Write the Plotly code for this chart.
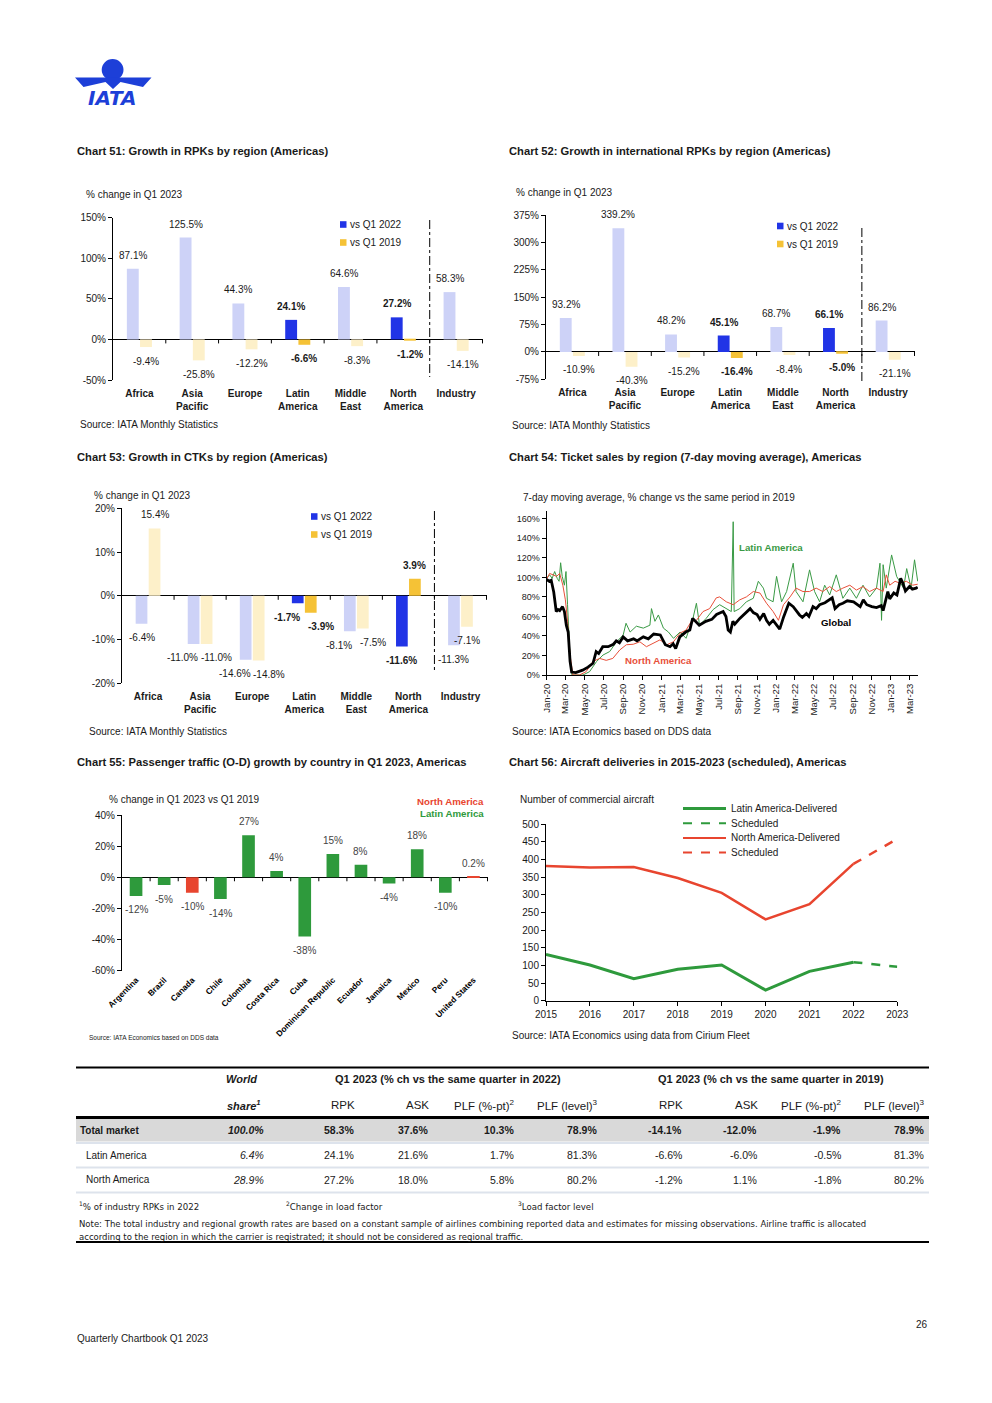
import plotly.graph_objects as go

W, H = 992, 1403
OFF = 8  # the page body adds an 8px margin around the figure
FONT = "Liberation Sans"
WIDE = "DejaVu Sans"
TXT = "#1a1a1a"
LIGHT_BLUE = "#cdd2f7"
STRONG_BLUE = "#2134e6"
LIGHT_YELLOW = "#fdf0c9"
STRONG_YELLOW = "#f5c236"
GREEN = "#2e9a3c"
RED = "#e8452f"
LINE_GREEN = "#3a9a45"
LINE_RED = "#e8503a"
IATA_BLUE = "#1d3fd8"

# ---------------- data ----------------
regions = ["Africa", "Asia Pacific", "Europe", "Latin America", "Middle East", "North America", "Industry"]
region_labels = ["Africa", "Asia<br>Pacific", "Europe", "Latin<br>America", "Middle<br>East", "North<br>America", "Industry"]
highlight_regions = ["Latin America", "North America"]

rpk_vs_q1_2022 = [87.1, 125.5, 44.3, 24.1, 64.6, 27.2, 58.3]
rpk_vs_q1_2019 = [-9.4, -25.8, -12.2, -6.6, -8.3, -1.2, -14.1]
intl_rpk_vs_q1_2022 = [93.2, 339.2, 48.2, 45.1, 68.7, 66.1, 86.2]
intl_rpk_vs_q1_2019 = [-10.9, -40.3, -15.2, -16.4, -8.4, -5.0, -21.1]
ctk_vs_q1_2022 = [-6.4, -11.0, -14.6, -1.7, -8.1, -11.6, -11.3]
ctk_vs_q1_2019 = [15.4, -11.0, -14.8, -3.9, -7.5, 3.9, -7.1]

countries = ["Argentina", "Brazil", "Canada", "Chile", "Colombia", "Costa Rica", "Cuba",
             "Dominican Republic", "Ecuador", "Jamaica", "Mexico", "Peru", "United States"]
country_region = ["Latin America", "Latin America", "North America", "Latin America", "Latin America",
                  "Latin America", "Latin America", "Latin America", "Latin America", "Latin America",
                  "Latin America", "Latin America", "North America"]
od_growth_vs_2019 = [-12, -5, -10, -14, 27, 4, -38, 15, 8, -4, 18, -10, 0.2]

years = [2015, 2016, 2017, 2018, 2019, 2020, 2021, 2022]
latam_delivered = [131, 101, 62, 89, 101, 30, 83, 109]
namer_delivered = [381, 377, 378, 347, 305, 230, 273, 387]
sched_years = [2022, 2023]
latam_scheduled = [109, 96]
namer_scheduled = [387, 458]

# Chart 54: ticket sales, 7-day moving average, % of 2019 level
global_sales = [
    ("2020-01-01", 98), ("2020-01-10", 96), ("2020-01-16", 97), ("2020-01-24", 85), ("2020-02-01", 65),
    ("2020-02-07", 67), ("2020-02-12", 66), ("2020-02-21", 70), ("2020-02-27", 65), ("2020-03-04", 51),
    ("2020-03-10", 44), ("2020-03-16", 14), ("2020-03-21", 3), ("2020-04-03", 2.4), ("2020-04-25", 5),
    ("2020-05-12", 8), ("2020-05-28", 12), ("2020-06-07", 24), ("2020-06-15", 22), ("2020-06-28", 29),
    ("2020-07-15", 29), ("2020-08-01", 31.5), ("2020-08-10", 35), ("2020-08-20", 33), ("2020-09-01", 39),
    ("2020-09-15", 35), ("2020-10-04", 37), ("2020-10-15", 35), ("2020-11-04", 39), ("2020-11-20", 37),
    ("2020-12-07", 42), ("2020-12-28", 41), ("2021-01-13", 31), ("2021-01-28", 29), ("2021-02-07", 32),
    ("2021-02-15", 27), ("2021-02-28", 39), ("2021-03-19", 44), ("2021-04-01", 46), ("2021-04-10", 58),
    ("2021-05-01", 51), ("2021-05-22", 55), ("2021-06-10", 57), ("2021-06-25", 62), ("2021-07-16", 65),
    ("2021-07-25", 60), ("2021-08-01", 46), ("2021-08-08", 44), ("2021-08-16", 55), ("2021-08-22", 52),
    ("2021-09-07", 58), ("2021-09-25", 63), ("2021-10-10", 68), ("2021-10-20", 64), ("2021-11-01", 62),
    ("2021-11-10", 57), ("2021-11-22", 63), ("2021-12-01", 56), ("2021-12-10", 52), ("2021-12-22", 56),
    ("2022-01-07", 50), ("2022-01-12", 47), ("2022-01-25", 60), ("2022-02-10", 73.5), ("2022-02-24", 70),
    ("2022-03-05", 66), ("2022-03-16", 61.5), ("2022-03-25", 59), ("2022-04-07", 63), ("2022-04-15", 60),
    ("2022-04-28", 70), ("2022-05-08", 68), ("2022-05-19", 72), ("2022-06-05", 74), ("2022-06-19", 77),
    ("2022-06-28", 79), ("2022-07-07", 68), ("2022-07-20", 72), ("2022-08-01", 73.5), ("2022-08-15", 76),
    ("2022-09-04", 75), ("2022-09-15", 72), ("2022-09-25", 70), ("2022-10-05", 77), ("2022-10-16", 72),
    ("2022-11-01", 70), ("2022-11-16", 69), ("2022-12-01", 71), ("2022-12-07", 66), ("2022-12-14", 75),
    ("2022-12-22", 85.5), ("2022-12-28", 78), ("2023-01-10", 84), ("2023-01-20", 82), ("2023-02-01", 99),
    ("2023-02-08", 94), ("2023-02-16", 86), ("2023-03-01", 90.6), ("2023-03-10", 88), ("2023-03-22", 89),
    ("2023-03-27", 90),
]
namer_sales = [
    ("2020-01-01", 98), ("2020-01-11", 104), ("2020-01-22", 102.6), ("2020-02-02", 101), ("2020-02-12", 104),
    ("2020-02-22", 92), ("2020-03-01", 77), ("2020-03-08", 55), ("2020-03-16", 20.5), ("2020-03-25", 0),
    ("2020-04-15", 0), ("2020-05-06", 3.4), ("2020-05-27", 13.7), ("2020-06-18", 17), ("2020-07-09", 15),
    ("2020-07-30", 17), ("2020-08-21", 25.6), ("2020-09-11", 31), ("2020-10-03", 31.5), ("2020-10-24", 34),
    ("2020-11-14", 29), ("2020-12-05", 32.5), ("2020-12-27", 36), ("2021-01-18", 31), ("2021-02-08", 34),
    ("2021-03-01", 43), ("2021-03-20", 46), ("2021-04-06", 55), ("2021-04-22", 56), ("2021-05-13", 65),
    ("2021-06-03", 68), ("2021-06-24", 79), ("2021-07-05", 80), ("2021-07-26", 75), ("2021-08-17", 72),
    ("2021-09-07", 77), ("2021-09-28", 80), ("2021-10-20", 85.5), ("2021-11-10", 84), ("2021-12-01", 73.5),
    ("2021-12-22", 65), ("2022-01-08", 56), ("2022-01-24", 72), ("2022-02-14", 80), ("2022-03-05", 89),
    ("2022-03-27", 85.5), ("2022-04-17", 85.5), ("2022-05-08", 89), ("2022-05-29", 85.5), ("2022-06-20", 90.6),
    ("2022-07-11", 85.5), ("2022-08-01", 89), ("2022-08-23", 92), ("2022-09-13", 87), ("2022-10-04", 90.6),
    ("2022-10-25", 85.5), ("2022-11-16", 89), ("2022-12-07", 85.5), ("2022-12-17", 102.6), ("2022-12-28", 92),
    ("2023-01-14", 96), ("2023-01-30", 94), ("2023-02-19", 96), ("2023-03-11", 92), ("2023-03-27", 93),
]
latam_sales = [
    ("2020-01-01", 99), ("2020-01-11", 102.6), ("2020-01-19", 99), ("2020-01-27", 106), ("2020-02-04", 99),
    ("2020-02-10", 96), ("2020-02-15", 115), ("2020-02-20", 101), ("2020-02-27", 92), ("2020-03-03", 106),
    ("2020-03-08", 72), ("2020-03-16", 17), ("2020-03-22", 0), ("2020-04-26", 0), ("2020-05-17", 3.4),
    ("2020-06-08", 13.7), ("2020-06-29", 20.5), ("2020-07-20", 24), ("2020-08-11", 34), ("2020-09-01", 41),
    ("2020-09-10", 53), ("2020-09-23", 44), ("2020-10-13", 50), ("2020-11-04", 48), ("2020-11-25", 51),
    ("2020-11-30", 68), ("2020-12-11", 55), ("2020-12-22", 61.5), ("2021-01-07", 48), ("2021-01-23", 44),
    ("2021-02-08", 37.6), ("2021-03-01", 44), ("2021-03-20", 37.6), ("2021-04-11", 58), ("2021-04-22", 73.5),
    ("2021-05-02", 51), ("2021-05-23", 58), ("2021-06-14", 67), ("2021-07-05", 72), ("2021-07-26", 68),
    ("2021-08-11", 65), ("2021-08-17", 157), ("2021-08-20", 65), ("2021-09-07", 68), ("2021-09-28", 75),
    ("2021-10-20", 78.6), ("2021-11-05", 96), ("2021-11-21", 89), ("2021-12-01", 78.6), ("2021-12-22", 75),
    ("2022-01-02", 101), ("2022-01-18", 75), ("2022-02-03", 85.5), ("2022-02-24", 114.5), ("2022-03-05", 85.5),
    ("2022-03-27", 75), ("2022-04-17", 107.7), ("2022-05-03", 85.5), ("2022-05-19", 75), ("2022-06-04", 92),
    ("2022-06-20", 82), ("2022-07-11", 102.6), ("2022-08-01", 78.6), ("2022-08-23", 89), ("2022-09-13", 78.6),
    ("2022-10-04", 92), ("2022-10-25", 80), ("2022-11-16", 89), ("2022-11-27", 114.5), ("2022-12-02", 56),
    ("2022-12-07", 113), ("2022-12-17", 89), ("2023-01-03", 123), ("2023-01-19", 101), ("2023-02-10", 89),
    ("2023-02-20", 109), ("2023-03-06", 89), ("2023-03-17", 118), ("2023-03-27", 96),
]

# Table
table_rows = ["Total market", "Latin America", "North America"]
world_share = ["100.0%", "6.4%", "28.9%"]
rpk_2022 = ["58.3%", "24.1%", "27.2%"]
ask_2022 = ["37.6%", "21.6%", "18.0%"]
plf_pt_2022 = ["10.3%", "1.7%", "5.8%"]
plf_lvl_2022 = ["78.9%", "81.3%", "80.2%"]
rpk_2019 = ["-14.1%", "-6.6%", "-1.2%"]
ask_2019 = ["-12.0%", "-6.0%", "1.1%"]
plf_pt_2019 = ["-1.9%", "-0.5%", "-1.8%"]
plf_lvl_2019 = ["78.9%", "81.3%", "80.2%"]

BARGAP = 0.5
BARGROUPGAP = 0.1


# ---------------- helpers (page pixel -> paper coordinates) ----------------
def px(x):
    return (x - OFF) / W


def py(y):
    return 1 - (y - OFF) / H


def dom_x(x0, x1):
    return [px(x0), px(x1)]


def dom_y(top, bot):
    return [py(bot), py(top)]


def sfx(n):
    return "" if n == 1 else str(n)


def pct_ticks(lo, hi, step):
    vals = list(range(int(lo), int(hi) + 1, int(step)))
    return dict(tickmode="array", tickvals=vals, ticktext=[f"{v}%" for v in vals])


annotations = []
shapes = []


def note(x, y, text, size=10, anchor="left", color=TXT, family=FONT):
    annotations.append(dict(x=px(x), y=py(y), xref="paper", yref="paper", text=text, showarrow=False,
                            xanchor=anchor, yanchor="middle",
                            font=dict(size=size, color=color, family=family)))


def hline(x0, x1, y, color="black", width=1, dash="solid"):
    shapes.append(dict(type="line", xref="paper", yref="paper", x0=px(x0), x1=px(x1), y0=py(y), y1=py(y),
                       line=dict(color=color, width=width, dash=dash)))


def bar_label(s, cat, v, text, xshift, color=TXT, size=10):
    annotations.append(dict(x=cat, y=v, xref="x" + s, yref="y" + s, text=text, showarrow=False,
                            xanchor="center", yanchor="middle", xshift=xshift,
                            yshift=13.5 if v >= 0 else -14,
                            font=dict(size=size, color=color, family=FONT)))


fig = go.Figure()
layout = {}


def fmt(v, bold):
    s = f"{v:.1f}%"
    return f"<b>{s}</b>" if bold else s


def region_chart(n, v22, v19, xdom, ydom, yrange, dtick, sep_top, sep_bot, legend_xy):
    s = sfx(n)
    hl = [r in highlight_regions for r in regions]
    fig.add_trace(go.Bar(x=regions, y=v22, xaxis="x" + s, yaxis="y" + s, name="vs Q1 2022",
                         marker=dict(color=[STRONG_BLUE if h else LIGHT_BLUE for h in hl], line=dict(width=0)),
                         showlegend=False))
    fig.add_trace(go.Bar(x=regions, y=v19, xaxis="x" + s, yaxis="y" + s, name="vs Q1 2019",
                         marker=dict(color=[STRONG_YELLOW if h else LIGHT_YELLOW for h in hl], line=dict(width=0)),
                         showlegend=False))
    # data labels anchored on the bar ends
    catw = (xdom[1] - xdom[0]) / len(regions)
    off = catw * (1 - BARGAP) / 4
    ppu = (ydom[1] - ydom[0]) / (yrange[1] - yrange[0])  # pixels per unit
    for r, a, b, h in zip(regions, v22, v19, hl):
        spread = 0
        if a < 0 and b < 0 and abs(a - b) * ppu < 11:
            spread = 11
        bar_label(s, r, a, fmt(a, h), -off - spread)
        bar_label(s, r, b, fmt(b, h), off + (spread - 1 if spread else 0))
    layout["xaxis" + s] = dict(domain=dom_x(*xdom), anchor="y" + s, type="category",
                               categoryorder="array", categoryarray=regions,
                               tickmode="array", tickvals=regions,
                               ticktext=["<br>".join(f"<b>{p}</b>" for p in t.split("<br>")) for t in region_labels],
                               showline=False, showgrid=False, zeroline=False, ticks="", automargin=False,
                               tickfont=dict(size=10, color=TXT), ticklabelstandoff=6, fixedrange=True)
    layout["yaxis" + s] = dict(domain=dom_y(*ydom), anchor="x" + s, range=yrange, **pct_ticks(*yrange, dtick),
                               showline=True, linecolor="black", linewidth=1, automargin=False,
                               ticks="outside", ticklen=4, tickcolor="black", showgrid=False,
                               zeroline=True, zerolinecolor="black", zerolinewidth=1,
                               tickfont=dict(size=10, color=TXT))
    for i in range(len(regions)):
        shapes.append(dict(type="line", xref="x" + s, yref="y" + s, x0=i + 0.5, x1=i + 0.5,
                           ysizemode="pixel", yanchor=0, y0=0, y1=-4, line=dict(color="black", width=1)))
    shapes.append(dict(type="line", xref="x" + s, yref="paper", x0=len(regions) - 1.5, x1=len(regions) - 1.5,
                       y0=py(sep_top), y1=py(sep_bot), line=dict(color="black", width=1, dash="dashdot")))
    lx, ly = legend_xy
    for k, (col, lab) in enumerate([(STRONG_BLUE, "vs Q1 2022"), (STRONG_YELLOW, "vs Q1 2019")]):
        yy = ly + k * 18
        shapes.append(dict(type="rect", xref="paper", yref="paper", x0=px(lx), x1=px(lx + 6.5),
                           y0=py(yy + 3.3), y1=py(yy - 3.3), fillcolor=col, line=dict(width=0)))
        note(lx + 7.5, yy, lab, size=10)


# ---------------- Chart 51-53 ----------------
region_chart(1, rpk_vs_q1_2022, rpk_vs_q1_2019, (113, 483), (217.7, 380), [-50, 150], 50, 220, 377, (340, 224.5))
region_chart(2, intl_rpk_vs_q1_2022, intl_rpk_vs_q1_2019, (546, 915), (215.3, 379.3), [-75, 375], 75, 228, 383, (777, 226))
region_chart(3, ctk_vs_q1_2022, ctk_vs_q1_2019, (122, 487), (508.3, 683.3), [-20, 20], 10, 511, 671, (311, 516.5))

# ---------------- Chart 54 ----------------
for series, col, wdt in [(latam_sales, LINE_GREEN, 1), (namer_sales, LINE_RED, 1), (global_sales, "black", 2.8)]:
    fig.add_trace(go.Scatter(x=[d for d, _ in series], y=[v for _, v in series], mode="lines",
                             line=dict(color=col, width=wdt), xaxis="x4", yaxis="y4", showlegend=False))
layout["xaxis4"] = dict(domain=dom_x(546.5, 918), anchor="y4", type="date",
                        range=["2020-01-01", "2023-03-28"], tick0="2020-01-01", dtick="M2",
                        tickformat="%b-%y", tickangle=-90, showline=True, linecolor="black", linewidth=1,
                        ticks="outside", ticklen=4, tickcolor="black", showgrid=False, zeroline=False,
                        automargin=False, tickfont=dict(size=9.5, color=TXT))
layout["yaxis4"] = dict(domain=dom_y(511, 675), anchor="x4", range=[0, 168], **pct_ticks(0, 160, 20),
                        showline=True, linecolor="black", linewidth=1, ticks="outside", ticklen=4,
                        tickcolor="black", showgrid=False, zeroline=False, automargin=False,
                        tickfont=dict(size=9, color=TXT))

# ---------------- Chart 55 ----------------
fig.add_trace(go.Bar(x=countries, y=od_growth_vs_2019, xaxis="x5", yaxis="y5",
                     marker=dict(color=[RED if r == "North America" else GREEN for r in country_region],
                                 line=dict(width=0)),
                     showlegend=False))
for c, v in zip(countries, od_growth_vs_2019):
    bar_label("5", c, v, f"{v:g}%", 0, color="#444444")
layout["xaxis5"] = dict(domain=dom_x(122, 488), anchor="y5", type="category", categoryorder="array",
                        categoryarray=countries, tickmode="array", tickvals=countries,
                        ticktext=[f"<b>{c}</b>" for c in countries], tickangle=-45,
                        showline=False, showgrid=False, zeroline=False, ticks="", automargin=False,
                        tickfont=dict(size=8.3, color="black"), ticklabelstandoff=2)
layout["yaxis5"] = dict(domain=dom_y(815, 970.7), anchor="x5", range=[-60, 40], **pct_ticks(-60, 40, 20),
                        showline=True, linecolor="black", linewidth=1, ticks="outside",
                        ticklen=4, tickcolor="black", showgrid=False, zeroline=True, zerolinecolor="black",
                        zerolinewidth=1, automargin=False, tickfont=dict(size=10, color=TXT))
for i in range(len(countries)):
    shapes.append(dict(type="line", xref="x5", yref="y5", x0=i + 0.5, x1=i + 0.5,
                       ysizemode="pixel", yanchor=0, y0=0, y1=-4, line=dict(color="black", width=1)))

# ---------------- Chart 56 ----------------
fig.add_trace(go.Scatter(x=years, y=latam_delivered, mode="lines", line=dict(color=GREEN, width=3),
                         xaxis="x6", yaxis="y6", showlegend=False))
fig.add_trace(go.Scatter(x=sched_years, y=latam_scheduled, mode="lines", line=dict(color=GREEN, width=2.5, dash="dash"),
                         xaxis="x6", yaxis="y6", showlegend=False))
fig.add_trace(go.Scatter(x=years, y=namer_delivered, mode="lines", line=dict(color=RED, width=2.5),
                         xaxis="x6", yaxis="y6", showlegend=False))
fig.add_trace(go.Scatter(x=sched_years, y=namer_scheduled, mode="lines", line=dict(color=RED, width=2.5, dash="dash"),
                         xaxis="x6", yaxis="y6", showlegend=False))
layout["xaxis6"] = dict(domain=dom_x(546, 897.3), anchor="y6", range=[2015, 2023], dtick=1, tick0=2015,
                        showline=True, linecolor="black", linewidth=1, ticks="outside", ticklen=4,
                        tickcolor="black", showgrid=False, zeroline=False, automargin=False,
                        tickfont=dict(size=10, color=TXT))
layout["yaxis6"] = dict(domain=dom_y(824, 1000.7), anchor="x6", range=[0, 500], dtick=50, tick0=0,
                        showline=True, linecolor="black", linewidth=1, ticks="outside", ticklen=4,
                        tickcolor="black", showgrid=False, zeroline=False, automargin=False,
                        tickfont=dict(size=10, color=TXT))
# legend of chart 56
for k, (col, dash, wdt, lab) in enumerate([(GREEN, "solid", 3, "Latin America-Delivered"),
                                           (GREEN, "dash", 2, "Scheduled"),
                                           (RED, "solid", 2, "North America-Delivered"),
                                           (RED, "dash", 2, "Scheduled")]):
    yy = 808.5 + k * 14.7
    hline(683, 726, yy, color=col, width=wdt, dash=dash)
    note(729, yy, lab, size=10)

# ---------------- titles / captions ----------------
TS = 11.2
note(75, 151.5, "<b>Chart 51: Growth in RPKs by region (Americas)</b>", size=TS)
note(507, 151.5, "<b>Chart 52: Growth in international RPKs by region (Americas)</b>", size=TS)
note(75, 456.5, "<b>Chart 53: Growth in CTKs by region (Americas)</b>", size=TS)
note(507, 456.5, "<b>Chart 54: Ticket sales by region (7-day moving average), Americas</b>", size=TS)
note(75, 761.5, "<b>Chart 55: Passenger traffic (O-D) growth by country in Q1 2023, Americas</b>", size=TS)
note(507, 761.5, "<b>Chart 56: Aircraft deliveries in 2015-2023 (scheduled), Americas</b>", size=TS)

note(84, 194.7, "% change in Q1 2023", size=10)
note(514, 192.7, "% change in Q1 2023", size=10)
note(92, 495.7, "% change in Q1 2023", size=10)
note(521, 497, "7-day moving average, % change vs the same period in 2019", size=10)
note(107, 799, "% change in Q1 2023 vs Q1 2019", size=10)
note(518, 799, "Number of commercial aircraft", size=10)

note(78, 424.5, "Source: IATA Monthly Statistics", size=10)
note(510, 425, "Source: IATA Monthly Statistics", size=10)
note(87, 731, "Source: IATA Monthly Statistics", size=10)
note(510, 731, "Source: IATA Economics based on DDS data", size=10)
note(87, 1037.5, "Source: IATA Economics based on DDS data", size=6.5)
note(510, 1035.5, "Source: IATA Economics using data from Cirium Fleet", size=10)

note(737, 547.5, "<b>Latin America</b>", size=9.7, color=LINE_GREEN)
note(819, 622.5, "<b>Global</b>", size=9.7, color="black")
note(623, 660.5, "<b>North America</b>", size=9.7, color=LINE_RED)

note(486, 801.5, "<b>North America</b>", size=9.7, anchor="right", color=RED)
note(486, 813.5, "<b>Latin America</b>", size=9.7, anchor="right", color=GREEN)

# ---------------- table ----------------
TL, TR = 76, 929
hline(TL, TR, 1067.5, width=2)
shapes.append(dict(type="rect", xref="paper", yref="paper", x0=px(TL), x1=px(TR), y0=py(1141.5), y1=py(1119),
                   fillcolor="#d9d9d9", line=dict(width=0)))
hline(TL, TR, 1117.5, width=3)
for yy in (1143, 1167.5, 1192.5):
    hline(TL, TR, yy, color="#dde3ec", width=2)
hline(TL, TR, 1242, width=2)

note(259, 1078.5, "<b><i>World</i></b>", size=11, anchor="right")
note(448, 1078.5, "<b>Q1 2023 (% ch vs the same quarter in 2022)</b>", size=11, anchor="center")
note(771, 1078.5, "<b>Q1 2023 (% ch vs the same quarter in 2019)</b>", size=11, anchor="center")

hdr_y = 1104.5
note(263, hdr_y, "<b><i>share</i></b><sup><b><i>1</i></b></sup>", size=11, anchor="right")
col_specs = [  # (right x, header)
    (357, "RPK"), (431, "ASK"), (517, "PLF (%-pt)<sup>2</sup>"), (600, "PLF (level)<sup>3</sup>"),
    (685, "RPK"), (759.5, "ASK"), (844, "PLF (%-pt)<sup>2</sup>"), (927, "PLF (level)<sup>3</sup>"),
]
for xr, h in col_specs:
    note(xr, hdr_y, h, size=11.5, anchor="right")

row_y = [1130, 1155, 1179.5]
columns = [rpk_2022, ask_2022, plf_pt_2022, plf_lvl_2022, rpk_2019, ask_2019, plf_pt_2019, plf_lvl_2019]
for r, name in enumerate(table_rows):
    bold = r == 0
    note(78 if bold else 84, row_y[r], f"<b>{name}</b>" if bold else name, size=10)
    share = f"<i>{world_share[r]}</i>"
    note(266, row_y[r], f"<b>{share}</b>" if bold else share, size=10.5, anchor="right")
    for (xr, _), col in zip(col_specs, columns):
        val = col[r]
        note(xr - 1, row_y[r], f"<b>{val}</b>" if bold else val, size=10.5, anchor="right")

note(77, 1206, "<sup>1</sup>% of industry RPKs in 2022", size=8.6, family=WIDE)
note(284, 1206, "<sup>2</sup>Change in load factor", size=8.6, family=WIDE)
note(516, 1206, "<sup>3</sup>Load factor level", size=8.6, family=WIDE)
note(77, 1224, "Note: The total industry and regional growth rates are based on a constant sample of airlines combining "
               "reported data and estimates for missing observations. Airline traffic is allocated", size=8.5, family=WIDE)
note(77, 1236.5, "according to the region in which the carrier is registrated; it should not be considered as regional traffic.",
     size=8.5, family=WIDE)

# ---------------- logo & footer ----------------
shapes.append(dict(type="circle", xref="paper", yref="paper", x0=px(101.7), x1=px(123.5), y0=py(80.5), y1=py(59),
                   fillcolor=IATA_BLUE, line=dict(width=0)))
wing = [(75, 77.5), (151.5, 77.5), (143, 87), (120.5, 82), (113, 89), (105.5, 82), (83.5, 87)]
path = "M " + " L ".join(f"{px(x):.5f},{py(y):.5f}" for x, y in wing) + " Z"
shapes.append(dict(type="path", xref="paper", yref="paper", path=path, fillcolor=IATA_BLUE, line=dict(width=0)))
note(112.5, 98, "<b><i>IATA</i></b>", size=20, anchor="center", color=IATA_BLUE, family=WIDE)

note(930, 1324, "26", size=10, anchor="right")
note(75, 1338.5, "Quarterly Chartbook Q1 2023", size=10)

fig.update_layout(
    width=W, height=H, autosize=False,
    margin=dict(l=0, r=0, t=0, b=0, pad=0, autoexpand=False),
    paper_bgcolor="white", plot_bgcolor="white",
    font=dict(family=FONT, size=10, color=TXT),
    barmode="group", bargap=BARGAP, bargroupgap=BARGROUPGAP,
    showlegend=False,
    annotations=annotations, shapes=shapes,
    **layout,
)

fig.write_html("out.html")
